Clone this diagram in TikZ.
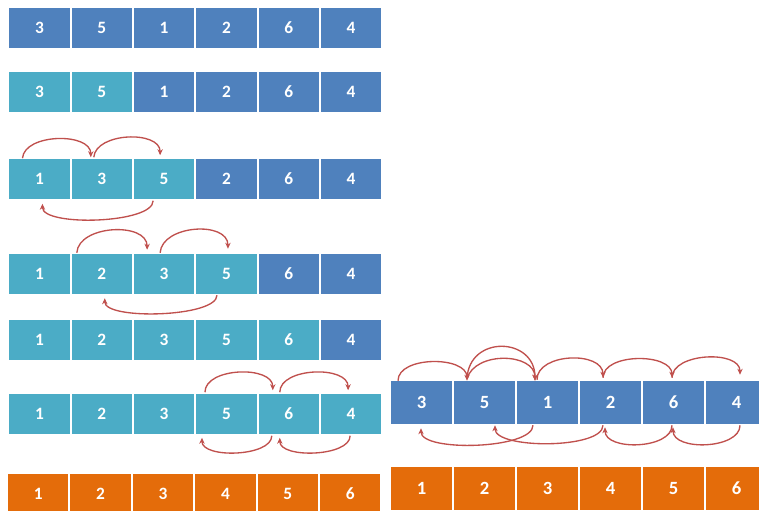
\documentclass[tikz,border=0pt]{standalone}
\usepackage{fontspec}
\setmainfont{Carlito}
\usetikzlibrary{calc,arrows.meta}
\definecolor{cB}{HTML}{4F81BD}
\definecolor{cT}{HTML}{4BACC6}
\definecolor{cO}{HTML}{E46C0A}
\definecolor{cR}{HTML}{C0504D}
\begin{document}
\begin{tikzpicture}[x=0.75pt,y=-0.75pt,
  cell/.style={rectangle,inner sep=0pt,minimum width=45.2pt,minimum height=30pt,
    text=white,font=\bfseries\fontsize{13}{15}\selectfont},
  rcell/.style={cell,minimum width=45.75pt,minimum height=32.25pt,
    font=\bfseries\fontsize{14}{16}\selectfont},
  arc/.style={draw=cR,line width=1pt,-{Stealth[length=4.5pt,width=4pt]}}]
\clip (0,0) rectangle (759,510);
\fill[white] (0,0) rectangle (759,510);
% left column of rows
\foreach \c/\t [count=\i] in {cB/3,cB/5,cB/1,cB/2,cB/6,cB/4}
  \node[cell,fill=\c] (L1-\i) at ({8.3+62.33*(\i-0.5)},28) {\t};
\foreach \c/\t [count=\i] in {cT/3,cT/5,cB/1,cB/2,cB/6,cB/4}
  \node[cell,fill=\c] (L2-\i) at ({8.3+62.33*(\i-0.5)},92) {\t};
\foreach \c/\t [count=\i] in {cT/1,cT/3,cT/5,cB/2,cB/6,cB/4}
  \node[cell,fill=\c] (L3-\i) at ({8.3+62.33*(\i-0.5)},178.5) {\t};
\foreach \c/\t [count=\i] in {cT/1,cT/2,cT/3,cT/5,cB/6,cB/4}
  \node[cell,fill=\c] (L4-\i) at ({8.3+62.33*(\i-0.5)},274) {\t};
\foreach \c/\t [count=\i] in {cT/1,cT/2,cT/3,cT/5,cT/6,cB/4}
  \node[cell,fill=\c] (L5-\i) at ({8.3+62.33*(\i-0.5)},340) {\t};
\foreach \c/\t [count=\i] in {cT/1,cT/2,cT/3,cT/5,cT/6,cT/4}
  \node[cell,fill=\c] (L6-\i) at ({8.3+62.33*(\i-0.5)},413.5) {\t};
\foreach \c/\t [count=\i] in {cO/1,cO/2,cO/3,cO/4,cO/5,cO/6}
  \node[cell,fill=\c] (L7-\i) at ({7+62.4*(\i-0.5)},494) {\t};
% right block
\foreach \c/\t [count=\i] in {cB/3,cB/5,cB/1,cB/2,cB/6,cB/4}
  \node[rcell,fill=\c] (R1-\i) at ({390+63*(\i-0.5)},402.5) {\t};
\foreach \c/\t [count=\i] in {cO/1,cO/2,cO/3,cO/4,cO/5,cO/6}
  \node[rcell,fill=\c] (R2-\i) at ({390+63*(\i-0.5)},488.5) {\t};
% row 3 arcs
\draw[arc] ($(L3-1.north)+(-17,0)$) .. controls +(2,-25) and +(0,-25) .. ($(L3-2.north)+(-11,-1)$);
\draw[arc] ($(L3-2.north)+(-8,-1)$) .. controls +(2,-25) and +(0,-25) .. ($(L3-3.north)+(-4,-3)$);
\draw[arc] ($(L3-3.south)+(-11,2)$) .. controls +(0,23) and +(0,23) .. ($(L3-1.south)+(3,5)$);
% row 4 arcs
\draw[arc] ($(L4-2.north)+(-25,-1)$) .. controls +(2,-28) and +(0,-28) .. ($(L4-3.north)+(-17,-4)$);
\draw[arc] ($(L4-3.north)+(-4,-1)$) .. controls +(2,-28) and +(0,-28) .. ($(L4-4.north)+(1.5,-5)$);
\draw[arc] ($(L4-4.south)+(-9.5,1)$) .. controls +(0,22) and +(0,22) .. ($(L4-2.south)+(3,4)$);
% row 6 arcs
\draw[arc] ($(L6-4.north)+(-21.5,-1)$) .. controls +(0,-25) and +(0,-25) .. ($(L6-5.north)+(-16,-3)$);
\draw[arc] ($(L6-5.north)+(-9,-1)$) .. controls +(0,-25) and +(0,-25) .. ($(L6-6.north)+(-3,-3)$);
\draw[arc] ($(L6-5.south)+(-17,2)$) .. controls +(0,21) and +(0,21) .. ($(L6-4.south)+(-24.5,4)$);
\draw[arc] ($(L6-6.south)+(-1,2)$) .. controls +(0,21) and +(0,21) .. ($(L6-5.south)+(-9,4)$);
% right block arcs (top)
\draw[arc] ($(R1-1.north)+(-23.5,0)$) .. controls +(0,-25) and +(0,-25) .. ($(R1-2.north)+(-17.5,0)$);
\draw[arc] ($(R1-2.north)+(-17.5,-2)$) .. controls +(2,-44) and +(0,-44) .. ($(R1-3.north)+(-12.5,0)$);
\draw[arc] ($(R1-2.north)+(-17.5,-2)$) .. controls +(8,-28) and +(0,-28) .. ($(R1-3.north)+(-12.5,0)$);
\draw[arc] ($(R1-3.north)+(-10.5,-1)$) .. controls +(0,-27) and +(0,-27) .. ($(R1-4.north)+(-7.5,-3)$);
\draw[arc] ($(R1-4.north)+(-7.5,-3)$) .. controls +(0,-25) and +(0,-25) .. ($(R1-5.north)+(-1.5,-3)$);
\draw[arc] ($(R1-5.north)+(-1.5,-3)$) .. controls +(0,-25) and +(0,-25) .. ($(R1-6.north)+(3.5,-6)$);
% right block arcs (bottom)
\draw[arc] ($(R1-3.south)+(-14.5,1)$) .. controls +(0,24) and +(0,24) .. ($(R1-1.south)+(-0.5,4)$);
\draw[arc] ($(R1-4.south)+(-7.5,1)$) .. controls +(0,24) and +(0,24) .. ($(R1-2.south)+(10.5,1)$);
\draw[arc] ($(R1-5.south)+(-1.5,1)$) .. controls +(0,24) and +(0,24) .. ($(R1-4.south)+(-5.5,3)$);
\draw[arc] ($(R1-6.south)+(3.5,1)$) .. controls +(0,24) and +(0,24) .. ($(R1-5.south)+(-0.5,3)$);
\end{tikzpicture}
\end{document}
